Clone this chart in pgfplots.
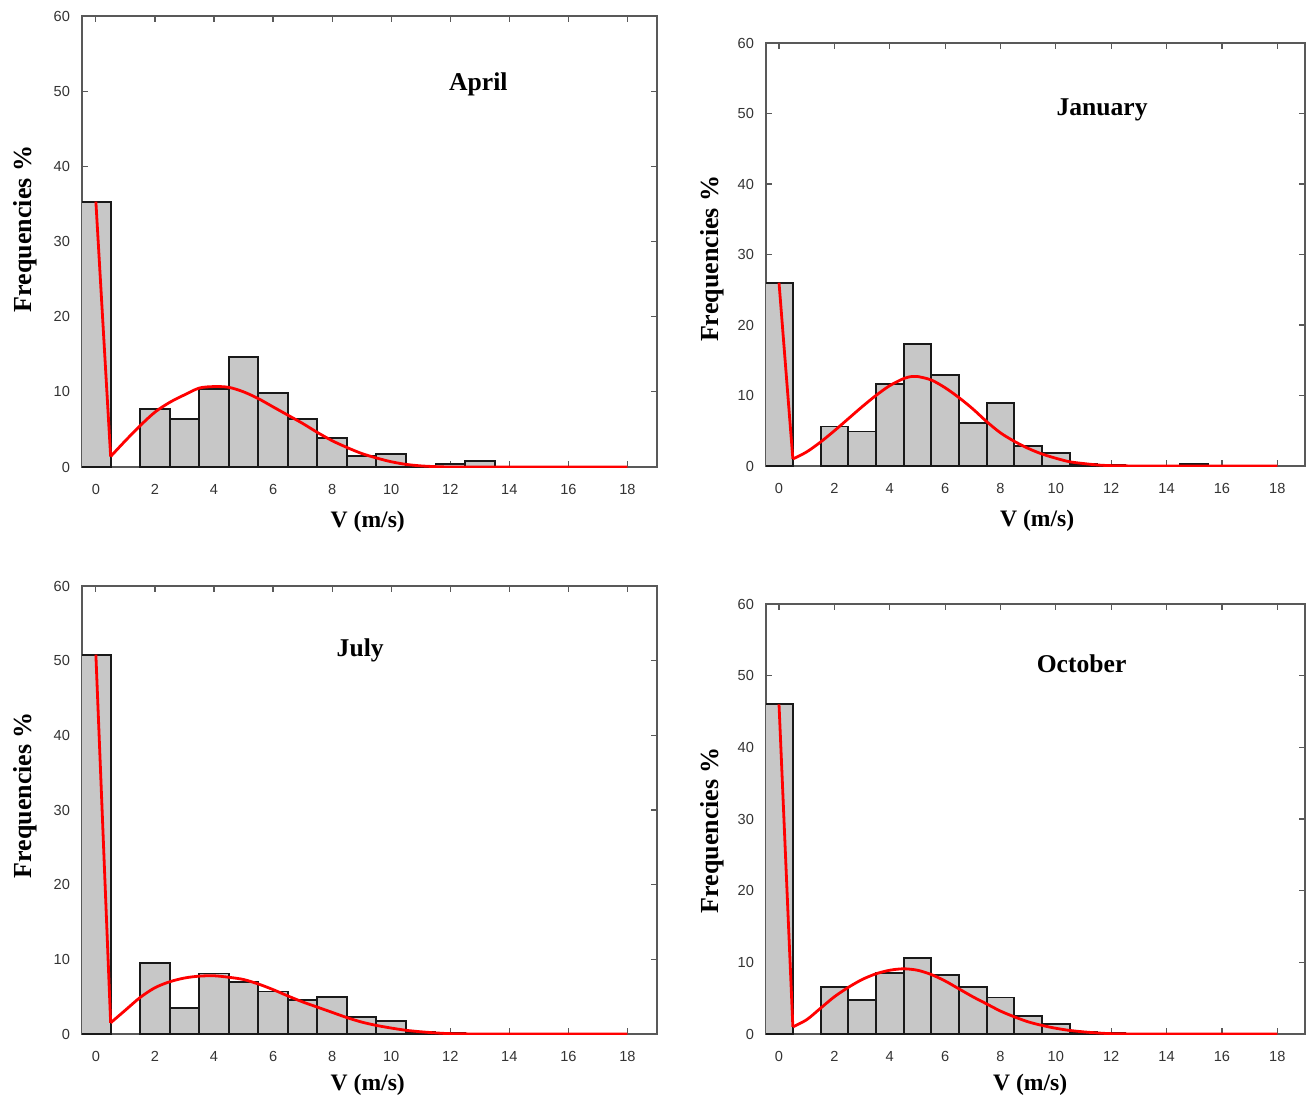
\documentclass[border=0pt]{standalone}
\usepackage{pgfplots}
\pgfplotsset{compat=1.18}
\usepackage{fontspec}
\setmainfont{Liberation Serif}
\newfontfamily\tickfont{Liberation Sans}
\pgfplotsset{
  panel/.style={
    scale only axis,
    xmin=-0.47, xmax=19, ymin=0, ymax=60,
    xtick={0,2,...,18}, ytick={0,10,...,60},
    tick align=inside,
    major tick length=3pt,
    axis line style={black!65, line width=1pt},
    tick style={black!65, line width=0.6pt},
    tick label style={font=\fontsize{7.3}{8}\selectfont\tickfont, text=black!80},
    /pgf/number format/assume math mode=true,
    xticklabel style={yshift=-5pt},
    yticklabel style={xshift=-2.5pt},
    xlabel style={font=\fontsize{11.8}{14}\selectfont\bfseries},
    ylabel style={font=\fontsize{13}{15}\selectfont\bfseries},
    clip=true,
  },
  bars/.style={ybar, bar width=1, fill=black!22, draw=black!90, line width=0.95pt},
  fitl/.style={red, line width=1.4pt, no markers},
  fits/.style={red, line width=1.4pt, smooth, no markers},
}
\tikzset{ttl/.style={font=\fontsize{12.8}{15}\selectfont\bfseries}}
\begin{document}
\begin{tikzpicture}
% ---------------- April ----------------
\begin{axis}[panel, at={(41pt,316.5pt)}, anchor=south west, width=287.5pt, height=225.5pt,
  xlabel={V (m/s)}, ylabel={Frequencies \%},
  xlabel style={at={(axis description cs:0.497,-0.122)}, anchor=center},
  ylabel style={at={(axis description cs:-0.099,0.528)}, anchor=center}]
\addplot[bars] coordinates {(0,35.3) (2,7.7) (3,6.4) (4,10.4) (5,14.6) (6,9.9) (7,6.4) (8,3.9) (9,1.5) (10,1.7) (11,0.2) (12,0.35) (13,0.75)};
\addplot[fitl] coordinates {(0,35.3) (0.5,1.4)};
\addplot[fits] coordinates {(0.5,1.4) (1,3.5) (1.5,5.5) (2,7.3) (2.5,8.6) (3,9.6) (3.5,10.5) (4,10.7) (4.5,10.6) (5,10.0) (5.5,9.1) (6,8.0) (6.5,6.9) (7,5.8) (7.5,4.6) (8,3.5) (8.5,2.6) (9,1.8) (9.5,1.2) (10,0.7) (10.5,0.35) (11,0.15) (11.5,0.05) (12,0) (13,0) (14,0) (15,0) (16,0) (17,0) (18,0)};
\node[ttl] at (axis cs:12.95,50.9) {April};
\end{axis}
% ---------------- January ----------------
\begin{axis}[panel, at={(383pt,317pt)}, anchor=south west, width=269.5pt, height=211.5pt,
  xlabel={V (m/s)}, ylabel={Frequencies \%},
  xlabel style={at={(axis description cs:0.503,-0.13)}, anchor=center},
  ylabel style={at={(axis description cs:-0.1,0.49)}, anchor=center}]
\addplot[bars] coordinates {(0,26) (2,5.6) (3,4.9) (4,11.6) (5,17.3) (6,12.9) (7,6.1) (8,9.0) (9,2.9) (10,1.8) (11,0.3) (12,0.2) (15,0.25)};
\addplot[fitl] coordinates {(0,26) (0.5,1.0)};
\addplot[fits] coordinates {(0.5,1.0) (1,2.0) (1.5,3.4) (2,5.0) (2.5,6.7) (3,8.4) (3.5,10.0) (4,11.4) (4.5,12.4) (4.8,12.7) (5,12.7) (5.5,12.2) (6,11.1) (6.5,9.7) (7,8.1) (7.5,6.3) (8,4.7) (8.5,3.5) (9,2.5) (9.5,1.7) (10,1.1) (10.5,0.6) (11,0.35) (11.5,0.15) (12,0.05) (13,0) (14,0) (15,0) (16,0) (17,0) (18,0)};
\node[ttl] at (axis cs:11.67,50.5) {January};
\end{axis}
% ---------------- July ----------------
\begin{axis}[panel, at={(41pt,33pt)}, anchor=south west, width=287.5pt, height=224pt,
  xlabel={V (m/s)}, ylabel={Frequencies \%},
  xlabel style={at={(axis description cs:0.497,-0.114)}, anchor=center},
  ylabel style={at={(axis description cs:-0.099,0.533)}, anchor=center}]
\addplot[bars] coordinates {(0,50.8) (2,9.5) (3,3.5) (4,8.1) (5,7.0) (6,5.7) (7,4.6) (8,5.0) (9,2.3) (10,1.7) (11,0.3) (12,0.15)};
\addplot[fitl] coordinates {(0,50.8) (0.5,1.5)};
\addplot[fits] coordinates {(0.5,1.5) (1,3.2) (1.5,4.9) (2,6.2) (2.5,7.0) (3,7.5) (3.5,7.75) (4,7.8) (4.5,7.6) (5,7.3) (5.5,6.7) (6,5.95) (6.5,5.1) (7,4.3) (7.5,3.6) (8,2.9) (8.5,2.2) (9,1.6) (9.5,1.15) (10,0.8) (10.5,0.5) (11,0.3) (11.5,0.15) (12,0.05) (13,0) (14,0) (15,0) (16,0) (17,0) (18,0)};
\node[ttl] at (axis cs:8.95,51.4) {July};
\end{axis}
% ---------------- October ----------------
\begin{axis}[panel, at={(383pt,33pt)}, anchor=south west, width=269.5pt, height=215pt,
  xlabel={V (m/s)}, ylabel={Frequencies \%},
  xlabel style={at={(axis description cs:0.49,-0.119)}, anchor=center},
  ylabel style={at={(axis description cs:-0.1,0.474)}, anchor=center}]
\addplot[bars] coordinates {(0,46) (2,6.5) (3,4.7) (4,8.5) (5,10.6) (6,8.2) (7,6.5) (8,5.1) (9,2.5) (10,1.4) (11,0.3) (12,0.2)};
\addplot[fitl] coordinates {(0,46) (0.5,1.0)};
\addplot[fits] coordinates {(0.5,1.0) (1,2.0) (1.5,3.6) (2,5.2) (2.5,6.5) (3,7.6) (3.5,8.4) (4,8.9) (4.5,9.1) (5,8.9) (5.5,8.3) (6,7.4) (6.5,6.3) (7,5.2) (7.5,4.2) (8,3.2) (8.5,2.4) (9,1.7) (9.5,1.2) (10,0.8) (10.5,0.5) (11,0.3) (11.5,0.15) (12,0.05) (13,0) (14,0) (15,0) (16,0) (17,0) (18,0)};
\node[ttl] at (axis cs:10.93,51.7) {October};
\end{axis}
\pgfresetboundingbox
\path[use as bounding box] (0,0) rectangle (654.5pt,550pt);
\end{tikzpicture}
\end{document}
